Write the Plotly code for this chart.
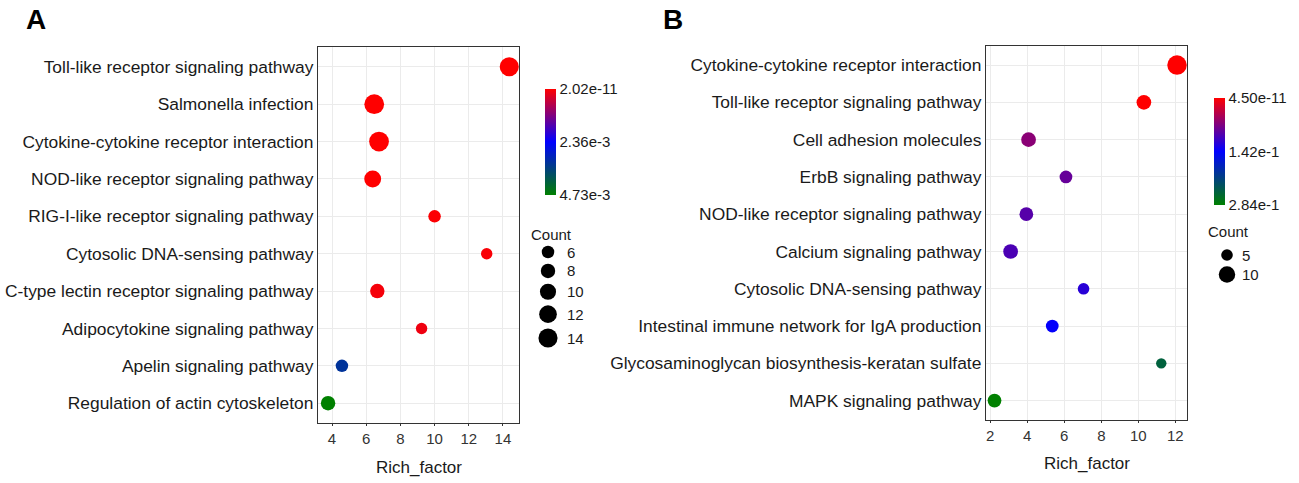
import numpy as np
import plotly.graph_objects as go

W, H = 1299, 483

# ---------------- data ----------------
cats_a = ["Toll-like receptor signaling pathway", "Salmonella infection",
          "Cytokine-cytokine receptor interaction", "NOD-like receptor signaling pathway",
          "RIG-I-like receptor signaling pathway", "Cytosolic DNA-sensing pathway",
          "C-type lectin receptor signaling pathway", "Adipocytokine signaling pathway",
          "Apelin signaling pathway", "Regulation of actin cytoskeleton"]
rich_a = [14.37, 6.47, 6.75, 6.38, 10.0, 13.05, 6.65, 9.24, 4.58, 3.77]
count_a = [14, 15, 15, 11, 6, 5, 8, 5, 6, 8]
p_a = [2.02e-11, 3.5e-9, 1.2e-9, 8.0e-8, 2.5e-5, 6.0e-5, 9.0e-5, 1.5e-4, 3.3e-3, 4.73e-3]
cb_a_vals = [2.02e-11, 2.36e-3, 4.73e-3]
cb_a_text = ["2.02e-11", "2.36e-3", "4.73e-3"]
legend_a = [6, 8, 10, 12, 14]
xticks_a = [4, 6, 8, 10, 12, 14]

cats_b = ["Cytokine-cytokine receptor interaction", "Toll-like receptor signaling pathway",
          "Cell adhesion molecules", "ErbB signaling pathway",
          "NOD-like receptor signaling pathway", "Calcium signaling pathway",
          "Cytosolic DNA-sensing pathway", "Intestinal immune network for IgA production",
          "Glycosaminoglycan biosynthesis-keratan sulfate", "MAPK signaling pathway"]
rich_b = [12.09, 10.3, 4.07, 6.09, 3.95, 3.1, 7.04, 5.35, 11.24, 2.23]
count_b = [14, 8, 8, 6, 7, 8, 5, 6, 4, 7]
p_b = [4.5e-11, 1.0e-6, 0.065, 0.085, 0.094, 0.10, 0.12, 0.14, 0.25, 0.284]
cb_b_vals = [4.50e-11, 1.42e-1, 2.84e-1]
cb_b_text = ["4.50e-11", "1.42e-1", "2.84e-1"]
legend_b = [5, 10]
xticks_b = [2, 4, 6, 8, 10, 12]

# ---------------- style ----------------
FONT = "Liberation Sans, Arial, sans-serif"
scale = [[0, "#008000"], [0.5, "#0000FF"], [1, "#FF0000"]]


def diam_a(c):
    return 5.1 * np.sqrt(np.asarray(c, dtype=float))


def diam_b(c):
    return 5.2 * np.sqrt(np.asarray(c, dtype=float))


def px_x(p):
    return p / W


def px_y(p):
    return 1 - p / H


fig = go.Figure()

fig.add_trace(go.Scatter(
    x=rich_a, y=cats_a, mode="markers", xaxis="x", yaxis="y",
    marker=dict(size=diam_a(count_a), color=[-v for v in p_a], coloraxis="coloraxis",
                opacity=1, line=dict(width=0)),
    showlegend=False))

fig.add_trace(go.Scatter(
    x=rich_b, y=cats_b, mode="markers", xaxis="x2", yaxis="y2",
    marker=dict(size=diam_b(count_b), color=[-v for v in p_b], coloraxis="coloraxis2",
                opacity=1, line=dict(width=0)),
    showlegend=False))


def legend_positions(diams, start, gap):
    ys = [start]
    for i in range(1, len(diams)):
        ys.append(ys[-1] + (diams[i - 1] + diams[i]) / 2 + gap)
    return ys


la_d = diam_a(legend_a)
la_y = legend_positions(la_d, 252, 5.5)
fig.add_trace(go.Scatter(
    x=[548] * len(legend_a), y=la_y, mode="markers", xaxis="x3", yaxis="y3",
    marker=dict(size=la_d, color="black", opacity=1, line=dict(width=0)),
    showlegend=False, hoverinfo="skip"))

lb_d = diam_b(legend_b)
lb_y = legend_positions(lb_d, 255, 5.5)
fig.add_trace(go.Scatter(
    x=[1227] * len(legend_b), y=lb_y, mode="markers", xaxis="x4", yaxis="y4",
    marker=dict(size=lb_d, color="black", opacity=1, line=dict(width=0)),
    showlegend=False, hoverinfo="skip"))

common_x = dict(showgrid=True, gridcolor="#ebebeb", gridwidth=1, zeroline=False,
                showline=True, mirror=True, linecolor="#333333", linewidth=1.3,
                ticks="outside", ticklen=2, tickcolor="#333333",
                tickfont=dict(size=15, color="#333333", family=FONT))
common_y = dict(showgrid=True, gridcolor="#ebebeb", gridwidth=1, zeroline=False,
                showline=True, mirror=True, linecolor="#333333", linewidth=1.3,
                ticks="", tickcolor="#333333",
                tickfont=dict(size=17.4, color="#1a1a1a", family=FONT),
                type="category", categoryorder="array")

hidden = dict(visible=False, showgrid=False, zeroline=False, fixedrange=True)

fig.update_layout(
    width=W, height=H, autosize=False,
    margin=dict(l=0, r=0, t=0, b=0),
    paper_bgcolor="white", plot_bgcolor="white",
    font=dict(family=FONT, color="#1a1a1a"),
    xaxis=dict(domain=[px_x(318), px_x(519)], range=[3.18, 14.94],
               tickvals=xticks_a, anchor="y", **common_x),
    yaxis=dict(domain=[px_y(423), px_y(47)], range=[-0.53, 9.53],
               categoryarray=cats_a[::-1], anchor="x", **common_y),
    xaxis2=dict(domain=[px_x(986), px_x(1187)], range=[1.77, 12.63],
                tickvals=xticks_b, anchor="y2", **common_x),
    yaxis2=dict(domain=[px_y(420), px_y(45.7)], range=[-0.52, 9.52],
                categoryarray=cats_b[::-1], anchor="x2", **common_y),
    xaxis3=dict(domain=[px_x(520), px_x(620)], range=[520, 620], anchor="y3", **hidden),
    yaxis3=dict(domain=[px_y(360), px_y(220)], range=[360, 220], anchor="x3", **hidden),
    xaxis4=dict(domain=[px_x(1195), px_x(1295)], range=[1195, 1295], anchor="y4", **hidden),
    yaxis4=dict(domain=[px_y(290), px_y(215)], range=[290, 215], anchor="x4", **hidden),
    coloraxis=dict(
        colorscale=scale, cmin=-cb_a_vals[2], cmax=-cb_a_vals[0],
        colorbar=dict(x=px_x(545), xanchor="left", y=px_y(142), yanchor="middle",
                      thickness=11, thicknessmode="pixels", len=106, lenmode="pixels",
                      xpad=0, ypad=0, outlinewidth=0, ticks="",
                      tickvals=[-v for v in cb_a_vals], ticktext=cb_a_text,
                      tickfont=dict(size=15, color="#1a1a1a", family=FONT))),
    coloraxis2=dict(
        colorscale=scale, cmin=-cb_b_vals[2], cmax=-cb_b_vals[0],
        colorbar=dict(x=px_x(1214), xanchor="left", y=px_y(151.5), yanchor="middle",
                      thickness=11, thicknessmode="pixels", len=107, lenmode="pixels",
                      xpad=0, ypad=0, outlinewidth=0, ticks="",
                      tickvals=[-v for v in cb_b_vals], ticktext=cb_b_text,
                      tickfont=dict(size=15, color="#1a1a1a", family=FONT))),
)

ann = []
# axis titles
ann.append(dict(text="Rich_factor", xref="x domain", yref="paper", x=0.5, y=px_y(467),
                xanchor="center", yanchor="middle", showarrow=False,
                font=dict(size=17, color="#1a1a1a", family=FONT)))
ann.append(dict(text="Rich_factor", xref="x2 domain", yref="paper", x=0.5, y=px_y(463),
                xanchor="center", yanchor="middle", showarrow=False,
                font=dict(size=17, color="#1a1a1a", family=FONT)))
# panel letters
ann.append(dict(text="<b>A</b>", xref="paper", yref="paper", x=px_x(24), y=px_y(19),
                xanchor="left", yanchor="middle", showarrow=False,
                font=dict(size=28, color="black", family=FONT)))
ann.append(dict(text="<b>B</b>", xref="paper", yref="paper", x=px_x(661), y=px_y(19),
                xanchor="left", yanchor="middle", showarrow=False,
                font=dict(size=28, color="black", family=FONT)))
# size legend titles / labels
ann.append(dict(text="Count", xref="x3", yref="y3", x=529, y=234, xanchor="left",
                yanchor="middle", showarrow=False, font=dict(size=15, family=FONT)))
for v, yy in zip(legend_a, la_y):
    ann.append(dict(text=str(v), xref="x3", yref="y3", x=565, y=yy, xanchor="left",
                    yanchor="middle", showarrow=False, font=dict(size=15, family=FONT)))
ann.append(dict(text="Count", xref="x4", yref="y4", x=1206, y=231, xanchor="left",
                yanchor="middle", showarrow=False, font=dict(size=15, family=FONT)))
for v, yy in zip(legend_b, lb_y):
    ann.append(dict(text=str(v), xref="x4", yref="y4", x=1240, y=yy, xanchor="left",
                    yanchor="middle", showarrow=False, font=dict(size=15, family=FONT)))
fig.update_layout(annotations=ann)

fig.write_html("out.html", config={"displayModeBar": False},
               post_script="document.body.style.margin='0px';document.body.style.overflow='hidden';")
